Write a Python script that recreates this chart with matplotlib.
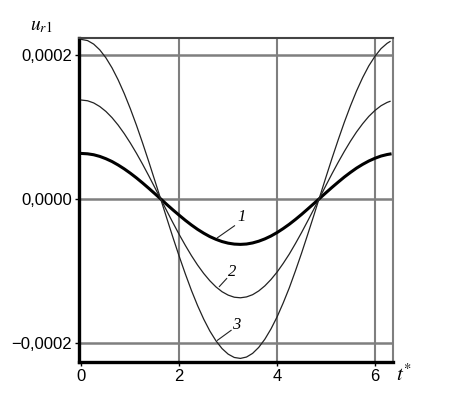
import numpy as np
import matplotlib
matplotlib.use("Agg")
import matplotlib.pyplot as plt

# values (u in units of 1e-4)
t = [0.0, 0.125, 0.25, 0.375, 0.5, 0.625, 0.75, 0.875, 1.0, 1.125, 1.25, 1.375,
     1.5, 1.625, 1.75, 1.875, 2.0, 2.125, 2.25, 2.375, 2.5, 2.625, 2.75, 2.875,
     3.0, 3.125, 3.25, 3.375, 3.5, 3.625, 3.75, 3.875, 4.0, 4.125, 4.25, 4.375,
     4.5, 4.625, 4.75, 4.875, 5.0, 5.125, 5.25, 5.375, 5.5, 5.625, 5.75, 5.875,
     6.0, 6.125, 6.25, 6.31]
u1 = [0.63, 0.625, 0.612, 0.589, 0.557, 0.518, 0.470, 0.416, 0.356, 0.291,
      0.221, 0.148, 0.073, -0.003, -0.080, -0.155, -0.227, -0.297, -0.362,
      -0.422, -0.475, -0.522, -0.560, -0.591, -0.613, -0.626, -0.63, -0.625,
      -0.610, -0.586, -0.554, -0.514, -0.466, -0.411, -0.351, -0.285, -0.215,
      -0.141, -0.066, 0.010, 0.086, 0.161, 0.233, 0.303, 0.367, 0.427, 0.479,
      0.525, 0.563, 0.594, 0.615, 0.622]
u2 = [1.37, 1.360, 1.330, 1.280, 1.212, 1.126, 1.023, 0.905, 0.774, 0.632,
      0.481, 0.322, 0.158, -0.007, -0.173, -0.336, -0.495, -0.645, -0.787,
      -0.917, -1.033, -1.134, -1.219, -1.286, -1.333, -1.362, -1.37, -1.358,
      -1.327, -1.275, -1.205, -1.117, -1.014, -0.894, -0.764, -0.619, -0.467,
      -0.307, -0.144, 0.022, 0.188, 0.351, 0.508, 0.658, 0.799, 0.928, 1.042,
      1.143, 1.225, 1.291, 1.337, 1.352]
u3 = [2.21, 2.194, 2.145, 2.065, 1.955, 1.816, 1.650, 1.460, 1.249, 1.020,
      0.775, 0.519, 0.255, -0.012, -0.279, -0.543, -0.798, -1.041, -1.270,
      -1.479, -1.666, -1.830, -1.966, -2.074, -2.151, -2.197, -2.21, -2.191,
      -2.140, -2.057, -1.944, -1.802, -1.635, -1.442, -1.232, -0.998, -0.753,
      -0.495, -0.232, 0.036, 0.303, 0.566, 0.819, 1.062, 1.288, 1.496, 1.681,
      1.843, 1.975, 2.082, 2.156, 2.181]
curve_labels = ["1", "2", "3"]
xticks = [0, 2, 4, 6]
yticks = [-0.0002, 0.0, 0.0002]
ytick_labels = ["\u22120,0002", "0,0000", "0,0002"]

plt.rcParams["font.family"] = ["Liberation Sans", "DejaVu Sans"]
plt.rcParams["mathtext.fontset"] = "stix"

fig = plt.figure(figsize=(4.57, 4.08), dpi=100)
ax = fig.add_axes([0.1729, 0.1127, 0.687, 0.7942])

t = np.array(t)
grid_c = "#7f7f7f"
for xv in xticks[1:]:
    ax.axvline(xv, color=grid_c, lw=1.5, zorder=1)
for yv in yticks:
    ax.axhline(yv, color=grid_c, lw=1.8, zorder=1)

ax.plot(t, np.array(u1) * 1e-4, color="black", lw=2.2, zorder=3)
ax.plot(t, np.array(u2) * 1e-4, color="#222222", lw=0.9, zorder=3)
ax.plot(t, np.array(u3) * 1e-4, color="#222222", lw=0.9, zorder=3)

ax.set_xlim(-0.05, 6.37)
ax.set_ylim(-0.000226, 0.000223)
ax.set_xticks(xticks)
ax.set_xticklabels([str(v) for v in xticks])
ax.set_yticks(yticks)
ax.set_yticklabels(ytick_labels)
ax.tick_params(axis="both", direction="out", length=3, width=1,
               labelsize=12, colors="black", pad=2)

for side in ["left", "bottom"]:
    ax.spines[side].set_linewidth(2.4)
    ax.spines[side].set_color("black")
ax.spines["top"].set_linewidth(1.5)
ax.spines["top"].set_color("#444444")
ax.spines["right"].set_linewidth(1.5)
ax.spines["right"].set_color(grid_c)

# curve numbers with leader lines
label_pos = [(3.27, -0.0000255), (3.08, -0.0001007), (3.16, -0.0001752)]
leader_start = [(2.78, -0.0000538), (2.82, -0.0001214), (2.78, -0.0001959)]
leader_end = [(3.13, -0.0000372), (2.97, -0.0001103), (3.06, -0.0001821)]
for lab, p, s, e in zip(curve_labels, label_pos, leader_start, leader_end):
    ax.plot([s[0], e[0]], [s[1], e[1]], color="#222222", lw=0.8, zorder=4)
    ax.text(p[0], p[1], lab, fontsize=12, style="italic",
            family="Liberation Serif", ha="center", va="center", zorder=4)

fig.text(0.091, 0.936, r"$u_{r\mathrm{1}}$", fontsize=14, ha="center", va="center")
fig.text(0.885, 0.083, r"$t^{*}$", fontsize=15, ha="center", va="center")

fig.savefig("out.png", dpi=100)
